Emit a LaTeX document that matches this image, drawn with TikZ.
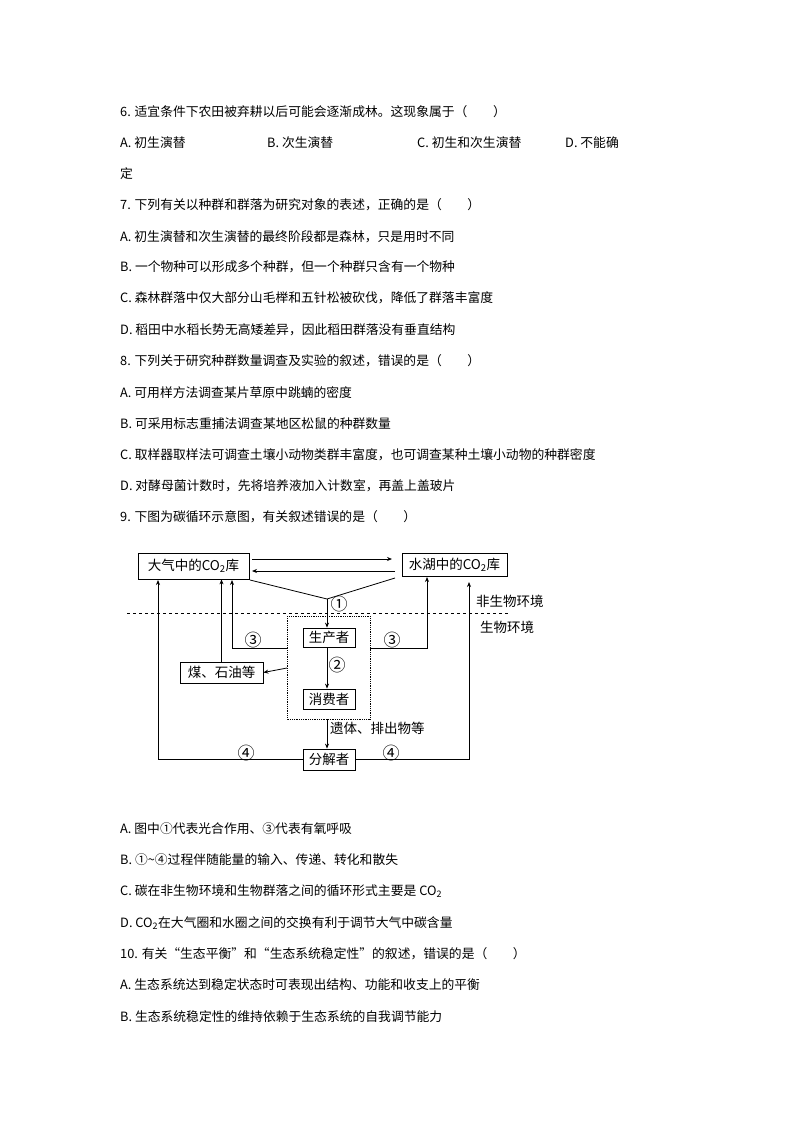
\documentclass[tikz,border=0pt]{standalone}
\usepackage{fontspec}
\setmainfont{Noto Sans CJK SC}
\newfontfamily\cjk{Noto Sans CJK SC}
\usetikzlibrary{arrows.meta}
\begin{document}
\begin{tikzpicture}[x=1pt,y=-1pt,
  txt/.style={anchor=west,inner sep=0,font=\fontsize{12.8}{12.8}\selectfont},
  bx/.style={draw,thick,inner sep=2pt,font=\fontsize{13.5}{13.5}\selectfont},
  lb/.style={inner sep=0,font=\fontsize{13.5}{13.5}\selectfont},
  cn/.style={inner sep=0,font=\fontsize{17}{17}\selectfont},
  ar/.style={thick,-{Stealth[length=5pt,width=4pt]}},
  ln/.style={thick}]
\useasboundingbox (0,0) rectangle (794,1123);
\fill[white] (0,0) rectangle (794,1123);
\node[txt] (t1) at (120,112) {6. 适宜条件下农田被弃耕以后可能会逐渐成林。这现象属于（\hspace{2em}）};
\node[txt] (t2a) at (120,143) {A. 初生演替};
\node[txt] (t2b) at (267,143) {B. 次生演替};
\node[txt] (t2c) at (417,143) {C. 初生和次生演替};
\node[txt] (t2d) at (565,143) {D. 不能确};
\node[txt] (t3) at (120,174) {定};
\node[txt] (t4) at (120,205) {7. 下列有关以种群和群落为研究对象的表述，正确的是（\hspace{2em}）};
\node[txt] (t5) at (120,237) {A. 初生演替和次生演替的最终阶段都是森林，只是用时不同};
\node[txt] (t6) at (120,267) {B. 一个物种可以形成多个种群，但一个种群只含有一个物种};
\node[txt] (t7) at (120,298) {C. 森林群落中仅大部分山毛榉和五针松被砍伐，降低了群落丰富度};
\node[txt] (t8) at (120,330) {D. 稻田中水稻长势无高矮差异，因此稻田群落没有垂直结构};
\node[txt] (t9) at (120,361) {8. 下列关于研究种群数量调查及实验的叙述，错误的是（\hspace{2em}）};
\node[txt] (t10) at (120,393) {A. 可用样方法调查某片草原中跳蝻的密度};
\node[txt] (t11) at (120,424) {B. 可采用标志重捕法调查某地区松鼠的种群数量};
\node[txt] (t12) at (120,455) {C. 取样器取样法可调查土壤小动物类群丰富度，也可调查某种土壤小动物的种群密度};
\node[txt] (t13) at (120,486) {D. 对酵母菌计数时，先将培养液加入计数室，再盖上盖玻片};
\node[txt] (t14) at (120,517) {9. 下图为碳循环示意图，有关叙述错误的是（\hspace{2em}）};
% diagram
\node[bx,minimum width=111pt,minimum height=26pt] (air) at (193.5,566) {大气中的CO\textsubscript{2}库};
\node[bx,minimum width=105pt,minimum height=23pt] (water) at (454.5,564.5) {水湖中的CO\textsubscript{2}库};
\draw[densely dotted,thick] (287,616) rectangle (370,719);
\node[bx,minimum width=52pt,minimum height=19pt] (prod) at (329,637.5) {生产者};
\node[bx,minimum width=52pt,minimum height=20pt] (cons) at (329,699) {消费者};
\node[bx,minimum width=83pt,minimum height=21pt] (coal) at (221.5,672.5) {煤、石油等};
\node[bx,minimum width=52pt,minimum height=21pt] (dec) at (329,759.5) {分解者};
\coordinate (j) at (327,599);
\coordinate (dl) at (287,668);
\coordinate (dt) at (327,719);
\draw[ar] (252,559) -- (392,559);
\draw[ar] (395,571) -- (252,571);
\draw[ln] (250,580) -- (j);
\draw[ln] (395,578) -- (j);
\draw[ar] (j) -- (prod.north -| j);
\node[cn] (n1) at (339,604) {①};
\draw[dashed,thick] (127,613) -- (510,613);
\node[lb,anchor=west] (abio) at (476,601) {非生物环境};
\node[lb,anchor=west] (bio) at (480,627) {生物环境};
\draw[ar] (prod.south -| j) -- (cons.north -| j);
\node[cn] (n2) at (337,665) {②};
\draw[ar] (dl) -- (coal.east);
\draw[ar] (coal.north) -- (coal.north |- air.south);
\draw[ar] (287,648) -- (232,648) -- (232,580);
\node[cn] (n3l) at (253,640) {③};
\draw[ar] (370,648) -- (427,648) -- (427,577);
\node[cn] (n3r) at (392,640) {③};
\draw[ar] (dt) -- (dec.north -| dt);
\node[lb,anchor=west] (rem) at (330,728) {遗体、排出物等};
\draw[ar] (dec.west) -- (158,759.5) -- (158,580);
\node[cn] (n4l) at (246,753) {④};
\draw[ar] (dec.east) -- (469,759.5) -- (469,582);
\node[cn] (n4r) at (391,753) {④};
\node[txt] (t15) at (120,829) {A. 图中①代表光合作用、③代表有氧呼吸};
\node[txt] (t16) at (120,860) {B. ①\textasciitilde④过程伴随能量的输入、传递、转化和散失};
\node[txt] (t17) at (120,891) {C. 碳在非生物环境和生物群落之间的循环形式主要是 CO\textsubscript{2}};
\node[txt] (t18) at (120,923) {D. CO\textsubscript{2}在大气圈和水圈之间的交换有利于调节大气中碳含量};
\node[txt] (t19) at (120,954) {10. 有关“生态平衡”和“生态系统稳定性”的叙述，错误的是（\hspace{2em}）};
\node[txt] (t20) at (120,985) {A. 生态系统达到稳定状态时可表现出结构、功能和收支上的平衡};
\node[txt] (t21) at (120,1017) {B. 生态系统稳定性的维持依赖于生态系统的自我调节能力};
\end{tikzpicture}
\end{document}
